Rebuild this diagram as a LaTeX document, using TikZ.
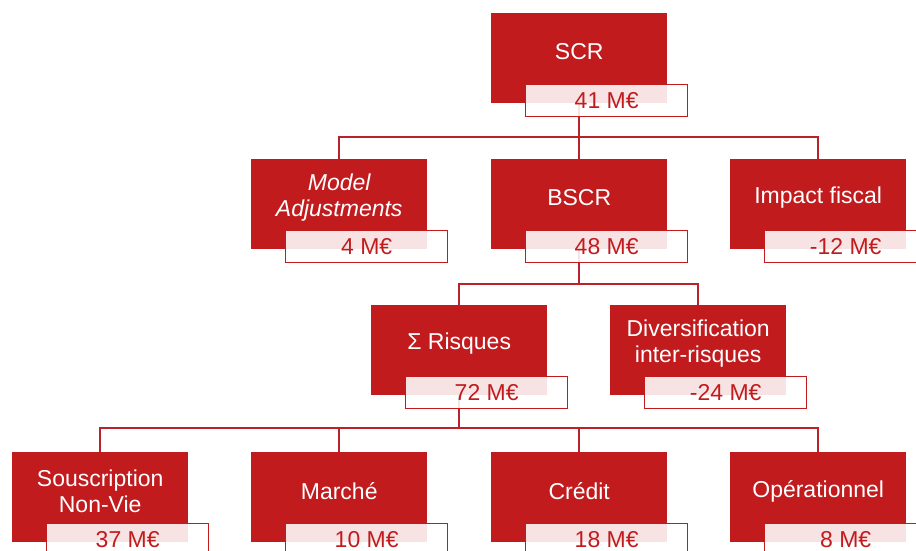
\documentclass[tikz,border=0pt]{standalone}
\usepackage{fontspec}
\setmainfont{Liberation Sans}
\usetikzlibrary{backgrounds,calc}
\definecolor{rouge}{HTML}{C11B1E}
\definecolor{ligne}{HTML}{B8222A}
\tikzset{
  x=1pt, y=-1pt,
  redbox/.style={fill=rouge, draw=none, minimum width=176pt, minimum height=90pt, inner sep=0pt, anchor=north west},
  title/.style={text=white, font=\fontsize{23}{26}\selectfont, align=center, inner sep=0pt},
  valbox/.style={fill=white, fill opacity=0.88, text opacity=1, draw=rouge, line width=1.4pt, minimum width=162pt, minimum height=32pt, inner sep=0pt, anchor=north west, text=rouge, font=\fontsize{23}{26}\selectfont},
  conn/.style={draw=ligne, line width=1.6pt}
}
\newcommand{\bloc}[5]{%
  \node[redbox] (#1) at (#2,#3) {};
  \node[title] (#1t) at ($(#1.north)+(0,39)$) {#4};
  \node[valbox] (#1v) at ($(#1.north west)+(34,71)$) {#5};
}
\begin{document}
\begin{tikzpicture}
\useasboundingbox (0,0) rectangle (916,550);
\bloc{scr}{491}{13}{SCR}{41 M€}
\bloc{ma}{251}{159}{\itshape Model\\\itshape Adjustments}{4 M€}
\bloc{bscr}{491}{159}{BSCR}{48 M€}
\bloc{imp}{730}{159}{Impact fiscal}{-12 M€}
\bloc{sr}{371}{305}{Σ Risques}{72 M€}
\bloc{div}{610}{305}{Diversification\\inter-risques}{-24 M€}
\bloc{sou}{12}{452}{Souscription\\Non-Vie}{37 M€}
\bloc{mar}{251}{452}{Marché}{10 M€}
\bloc{cre}{491}{452}{Crédit}{18 M€}
\bloc{ope}{730}{452}{Opérationnel}{8 M€}
\coordinate (bar1) at (0,137);
\coordinate (bar2) at (0,284);
\coordinate (bar3) at (0,428);
\begin{pgfonlayer}{background}
\draw[conn] (scr.south) -- (scr.south |- bar1);
\draw[conn] (ma.north) -- (ma.north |- bar1) -| (imp.north);
\draw[conn] (bscr.north) -- (bscr.north |- bar1);
\draw[conn] (bscr.south) -- (bscr.south |- bar2);
\draw[conn] (sr.north) -- (sr.north |- bar2) -| (div.north);
\draw[conn] (sr.south) -- (sr.south |- bar3);
\draw[conn] (sou.north) -- (sou.north |- bar3) -| (ope.north);
\draw[conn] (mar.north) -- (mar.north |- bar3);
\draw[conn] (cre.north) -- (cre.north |- bar3);
\end{pgfonlayer}
\end{tikzpicture}
\end{document}
